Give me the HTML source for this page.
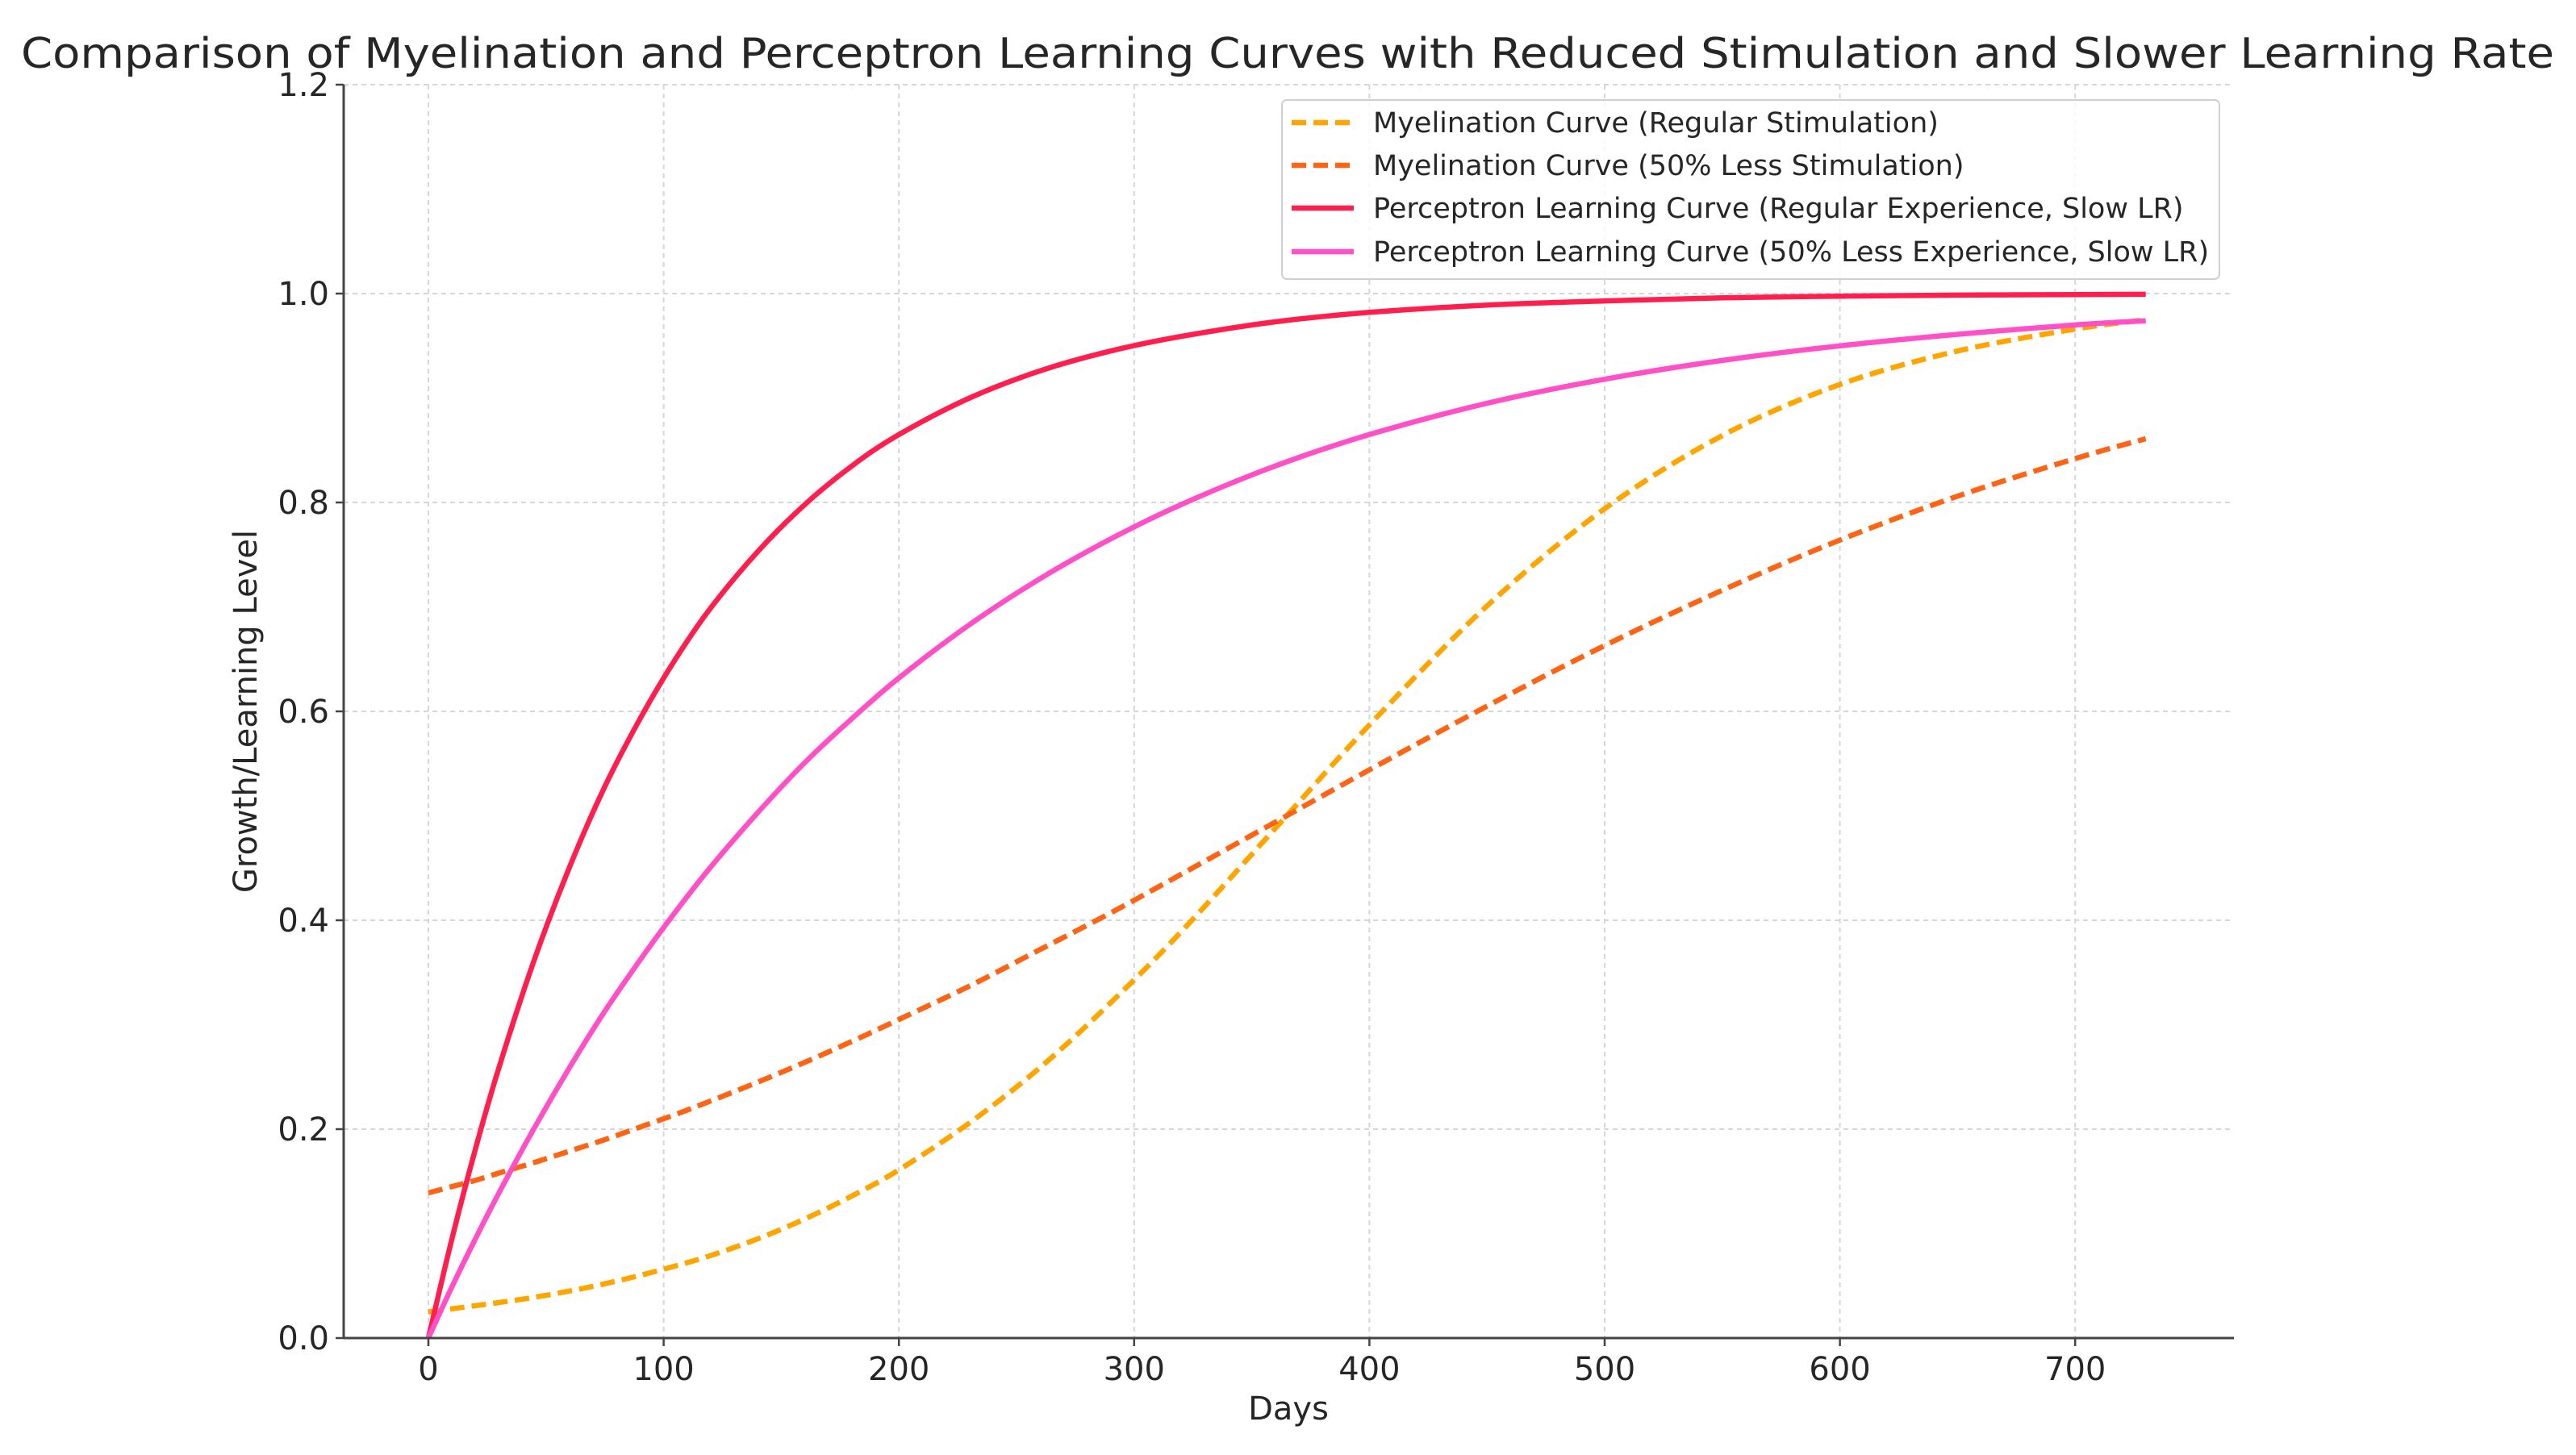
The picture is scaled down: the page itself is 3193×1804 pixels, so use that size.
<!DOCTYPE html>
<html><head><meta charset="utf-8"><style>
html,body{margin:0;padding:0;background:#fff;}
svg{display:block;font-family:"DejaVu Sans","Liberation Sans",sans-serif;}
</style></head><body>
<svg id="chart" width="3193" height="1804" viewBox="0 0 3193 1804" xmlns="http://www.w3.org/2000/svg">
<rect width="3193" height="1804" fill="#fff"/>
<text x="1596" y="84" text-anchor="middle" font-size="52" fill="#262626" textLength="3140" lengthAdjust="spacingAndGlyphs">Comparison of Myelination and Perceptron Learning Curves with Reduced Stimulation and Slower Learning Rate</text>
<g id="grid"></g>
<g id="series"></g>
<g id="axes"></g>
<text x="1597" y="1760" text-anchor="middle" font-size="40" fill="#262626">Days</text>
<text transform="translate(318,882) rotate(-90)" text-anchor="middle" font-size="40" fill="#262626">Growth/Learning Level</text>
<g>
<rect x="1589" y="124" width="1162" height="222" rx="6" fill="#fff" fill-opacity="0.85" stroke="#d0d0d0" stroke-width="2"/>
<g id="legend-items"></g>
</g>
</svg>
<script>
const days = [0,10,20,30,45,60,75,90,105,120,140,160,180,200,230,260,290,320,360,400,450,500,550,600,650,700,730];
const myelinRegular = [0.025,0.028,0.031,0.034,0.039,0.045,0.052,0.060,0.069,0.079,0.095,0.114,0.136,0.161,0.206,0.259,0.321,0.389,0.488,0.587,0.701,0.794,0.864,0.913,0.945,0.966,0.975];
const myelinLess = [0.139,0.145,0.151,0.158,0.168,0.179,0.190,0.202,0.214,0.227,0.245,0.264,0.284,0.305,0.337,0.372,0.407,0.444,0.494,0.544,0.605,0.663,0.716,0.764,0.806,0.842,0.861];
const perceptronRegular = [0,0.095,0.181,0.259,0.362,0.451,0.528,0.593,0.650,0.699,0.753,0.798,0.835,0.865,0.900,0.926,0.945,0.959,0.973,0.982,0.989,0.993,0.996,0.9975,0.9985,0.9991,0.9993];
const perceptronLess = [0,0.049,0.095,0.139,0.201,0.259,0.313,0.362,0.408,0.451,0.503,0.551,0.593,0.632,0.683,0.727,0.765,0.798,0.835,0.865,0.895,0.918,0.936,0.950,0.961,0.970,0.974];
const xTicks = [0,100,200,300,400,500,600,700];
const yTicks = [0.0,0.2,0.4,0.6,0.8,1.0,1.2];
const seriesLabels = ["Myelination Curve (Regular Stimulation)","Myelination Curve (50% Less Stimulation)","Perceptron Learning Curve (Regular Experience, Slow LR)","Perceptron Learning Curve (50% Less Experience, Slow LR)"];

const NS="http://www.w3.org/2000/svg";
const X0=531, XS=2.916, Y0=1659, YS=1295, LEFT=426, RIGHT=2769, TOP=105;
const xp=d=>X0+d*XS, yp=v=>Y0-v*YS;
function mk(tag,parent,attrs){const e=document.createElementNS(NS,tag);for(const k in attrs)e.setAttribute(k,attrs[k]);parent.appendChild(e);return e;}
function smoothPath(pts){
  let d='M'+pts[0][0].toFixed(1)+','+pts[0][1].toFixed(1);
  for(let i=0;i<pts.length-1;i++){
    const p0=pts[Math.max(i-1,0)],p1=pts[i],p2=pts[i+1],p3=pts[Math.min(i+2,pts.length-1)];
    const c1x=p1[0]+(p2[0]-p0[0])/6,c1y=p1[1]+(p2[1]-p0[1])/6;
    const c2x=p2[0]-(p3[0]-p1[0])/6,c2y=p2[1]-(p3[1]-p1[1])/6;
    d+=' C'+c1x.toFixed(1)+','+c1y.toFixed(1)+' '+c2x.toFixed(1)+','+c2y.toFixed(1)+' '+p2[0].toFixed(1)+','+p2[1].toFixed(1);
  }
  return d;
}
const grid=document.getElementById('grid'), axes=document.getElementById('axes'), ser=document.getElementById('series');
xTicks.forEach(t=>{
  const g=mk('line',grid,{x1:xp(t),x2:xp(t),y1:TOP,y2:Y0,stroke:'#d6d6d6','stroke-width':2,'stroke-dasharray':'6,5'});
  
  
  const tk=mk('line',axes,{x1:xp(t),x2:xp(t),y1:Y0,y2:Y0+10,stroke:'#444','stroke-width':2.5});
  
  
  const l=mk('text',axes,{x:xp(t),y:Y0+52,'text-anchor':'middle','font-size':40,fill:'#262626'});
  l.textContent=String(t);
  
  
});
yTicks.forEach(t=>{
  const g=mk('line',grid,{x1:LEFT,x2:RIGHT,y1:yp(t),y2:yp(t),stroke:'#d6d6d6','stroke-width':2,'stroke-dasharray':'6,5'});
  
  
  const tk=mk('line',axes,{x1:LEFT-10,x2:LEFT,y1:yp(t),y2:yp(t),stroke:'#444','stroke-width':2.5});
  
  
  const l=mk('text',axes,{x:LEFT-18,y:yp(t)+14,'text-anchor':'end','font-size':40,fill:'#262626'});
  l.textContent=t.toFixed(1);
  
  
});
const ax1=mk('line',axes,{x1:LEFT,x2:LEFT,y1:TOP,y2:Y0,stroke:'#444','stroke-width':3});


const ax2=mk('line',axes,{x1:LEFT,x2:RIGHT,y1:Y0,y2:Y0,stroke:'#444','stroke-width':3});



const styles=[
 {vals:myelinRegular,color:'#FFA500',dash:'18,9',name:'myelination-regular-line'},
 {vals:myelinLess,color:'#FF6414',dash:'18,9',name:'myelination-less-line'},
 {vals:perceptronRegular,color:'#FF1F4F',dash:'',name:'perceptron-regular-line'},
 {vals:perceptronLess,color:'#FF50C8',dash:'',name:'perceptron-less-line'}
];
styles.forEach(s=>{
  const pts=days.map((t,i)=>[xp(t),yp(s.vals[i])]);
  const p=mk('path',ser,{d:smoothPath(pts),fill:'none',stroke:s.color,'stroke-width':6.5,'stroke-linejoin':'round'});
  if(s.dash)p.setAttribute('stroke-dasharray',s.dash);
  
  
});
const li=document.getElementById('legend-items');
const ly=[152,205,258,312];
styles.forEach((s,i)=>{
  const ln=mk('line',li,{x1:1601,x2:1678,y1:ly[i],y2:ly[i],stroke:s.color,'stroke-width':6.5});
  if(s.dash)ln.setAttribute('stroke-dasharray','18,9');
  
  
  const t=mk('text',li,{x:1702,y:ly[i]+12,'font-size':35,fill:'#262626'});
  t.textContent=seriesLabels[i];
  
  
});
</script>
</body></html>
